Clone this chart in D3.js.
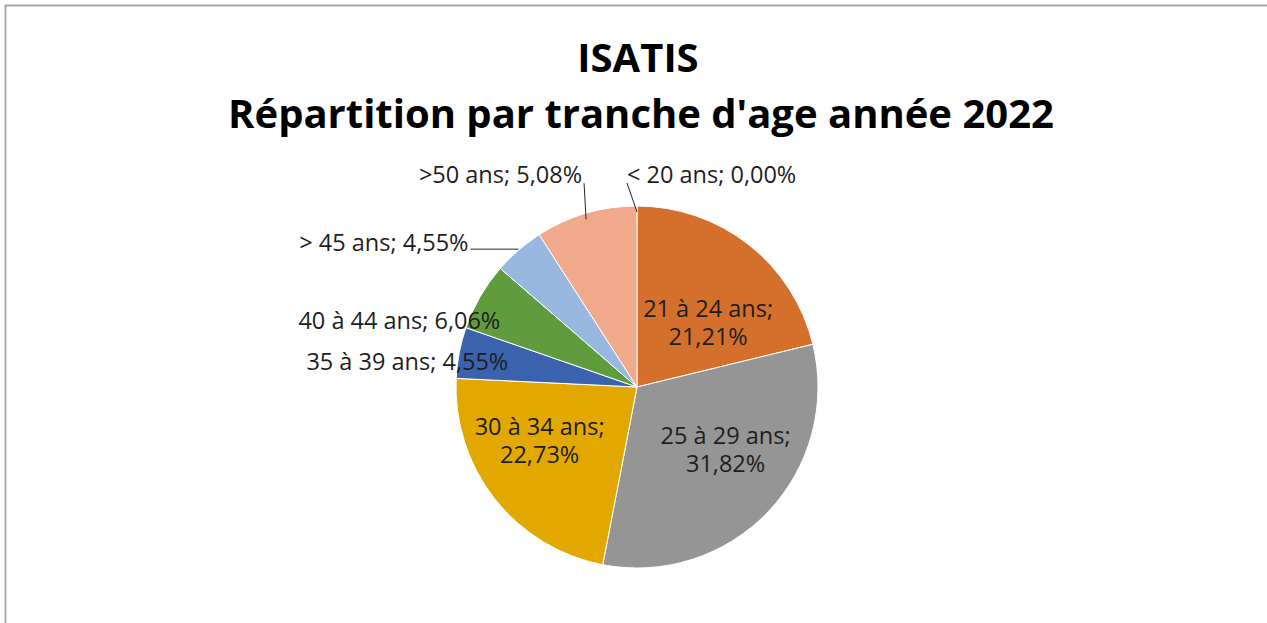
<!DOCTYPE html>
<html>
<head>
<meta charset="utf-8">
<script src="https://cdn.jsdelivr.net/npm/d3@7"></script>
<style>
  body { margin: 0; background: #fff; }
  svg { display: block; }
</style>
</head>
<body>
<div id="pie"></div>
<script>
const FRAME_WIDTH = 1267;
const FRAME_HEIGHT = 623;

// data
const categories = ["< 20 ans", "21 à 24 ans", "25 à 29 ans", "30 à 34 ans",
                    "35 à 39 ans", "40 à 44 ans", "> 45 ans", ">50 ans"];
const shares = [0, 21.21, 31.82, 22.73, 4.55, 6.06, 4.55, 9.08];
const shareLabels = ["0,00%", "21,21%", "31,82%", "22,73%", "4,55%", "6,06%", "4,55%", "5,08%"];
const colours = ["#d4702c", "#d4702c", "#959595", "#e2a800", "#3b62ad", "#609c3d", "#98b8df", "#f0a98a"];

// pie geometry
const CX = 637, CY = 387, R = 181;

// label placement (inside = two lines on slice, outside = one line next to pie)
const LAYOUT = [
  {mode: "out", anchor: "start", dx: -10, dy: -32, leader: true},
  {mode: "in", dx: 4, dy: 20},
  {mode: "in", dx: 10, dy: -13},
  {mode: "in", dx: -12, dy: -14},
  {mode: "out", anchor: "end", dx: 49, dy: 8},
  {mode: "out", anchor: "end", dx: 20, dy: 24},
  {mode: "out", anchor: "end", dx: -50, dy: -8, leader: true, flat: true},
  {mode: "out", anchor: "end", dx: -4, dy: -39, leader: true}
];

const FRAME = d3.select("#pie")
                .append("svg")
                  .attr("width", FRAME_WIDTH)
                  .attr("height", FRAME_HEIGHT);

// chart frame border
FRAME.append("rect")
    .attr("x", 5.5).attr("y", 5.5)
    .attr("width", 1400).attr("height", 800)
    .attr("fill", "none")
    .attr("stroke", "#a3a3a3")
    .attr("stroke-width", 1.8);

// title
const TITLE = FRAME.append("text")
    .attr("text-anchor", "middle")
    .attr("font-family", "'Open Sans', sans-serif")
    .attr("font-weight", "bold")
    .attr("font-size", "40px")
    .attr("fill", "#000");
TITLE.append("tspan").attr("x", 638).attr("y", 72).text("ISATIS");
TITLE.append("tspan").attr("x", 641).attr("y", 128).text("Répartition par tranche d'age année 2022");

const data = categories.map((c, i) => ({cat: c, value: shares[i], label: shareLabels[i], i: i}));

const pie = d3.pie().sort(null).value(d => d.value);
const arcs = pie(data);

const arc = d3.arc().innerRadius(0).outerRadius(R);
const inArc = d3.arc().innerRadius(R * 0.6).outerRadius(R * 0.6);
const edgeArc = d3.arc().innerRadius(R).outerRadius(R);

const G = FRAME.append("g").attr("transform", `translate(${CX},${CY})`);

G.selectAll("path.slice")
  .data(arcs)
  .enter()
  .append("path")
    .attr("class", "slice")
    .attr("d", arc)
    .attr("fill", d => colours[d.data.i])
    .attr("stroke", "#fff")
    .attr("stroke-width", 1);

const LABELS = G.append("g")
    .attr("font-family", "'Open Sans', sans-serif")
    .attr("font-size", "23.5px")
    .attr("fill", "#1e1e1e");

arcs.forEach(d => {
  const L = LAYOUT[d.data.i];
  if (L.mode === "in") {
    const [x, y] = inArc.centroid(d);
    const t = LABELS.append("text")
        .attr("text-anchor", "middle")
        .attr("dominant-baseline", "central");
    t.append("tspan").attr("x", x + L.dx).attr("y", y + L.dy - 14).text(d.data.cat + ";");
    t.append("tspan").attr("x", x + L.dx).attr("y", y + L.dy + 14).text(d.data.label);
  } else {
    const [ex, ey] = edgeArc.centroid(d);
    const lx = ex + L.dx, ly = ey + L.dy;
    if (L.leader) {
      const p = L.flat ? [lx + 2, ey - 1] : [lx + (L.anchor === "start" ? 0 : 2), ly + 9];
      G.append("line")
        .attr("x1", ex).attr("y1", L.flat ? ey - 1 : ey + 6)
        .attr("x2", p[0]).attr("y2", p[1])
        .attr("stroke", "#262626")
        .attr("stroke-width", 1);
    }
    LABELS.append("text")
        .attr("x", lx).attr("y", ly)
        .attr("text-anchor", L.anchor)
        .attr("dominant-baseline", "central")
        .text(d.data.cat + "; " + d.data.label);
  }
});
</script>
</body>
</html>
